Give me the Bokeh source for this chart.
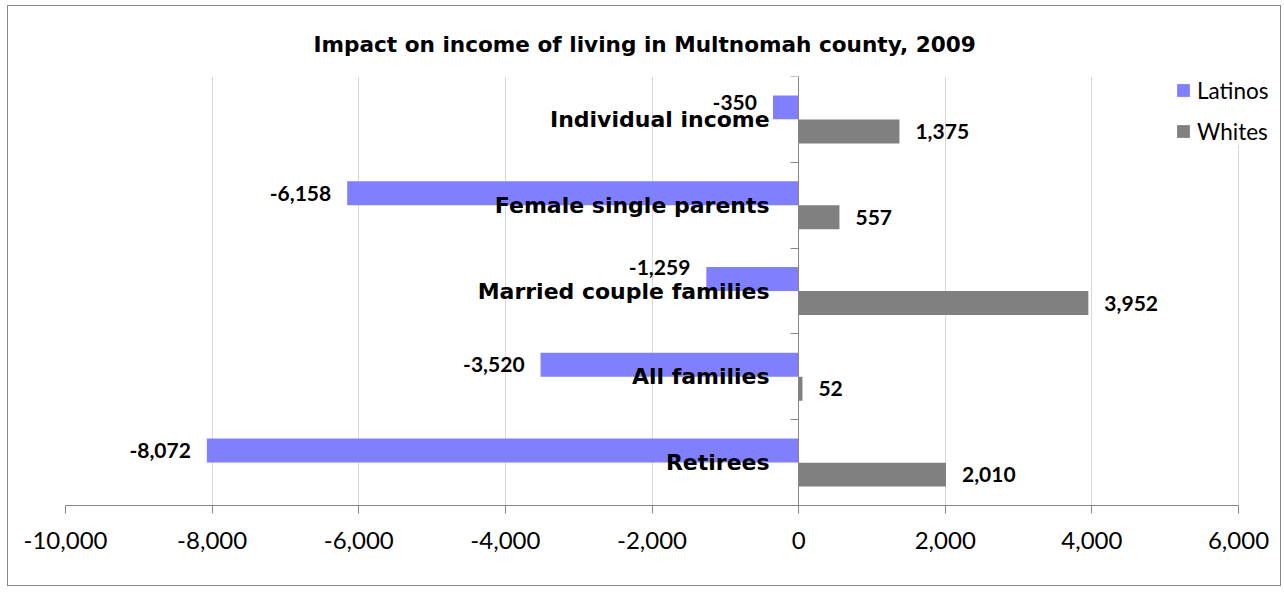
from bokeh.plotting import figure
from bokeh.models import (ColumnDataSource, Range1d, FixedTicker, NumeralTickFormatter,
                          Legend, LegendItem)
from bokeh.core.properties import value
from bokeh.embed import file_html
from bokeh.resources import INLINE

# ---- data ----
categories = ["Individual income", "Female single parents", "Married couple families",
              "All families", "Retirees"]
latinos = [-350, -6158, -1259, -3520, -8072]
whites = [1375, 557, 3952, 52, 2010]
series_names = ["Latinos", "Whites"]
x_ticks = [-10000, -8000, -6000, -4000, -2000, 0, 2000, 4000, 6000]

# ---- layout tweaks (screen px, not data) ----
latino_label_lift = [5, 0, 11, 0, 0]

NUM_FONT = "Lato"
TXT_FONT = "DejaVu Sans"
LAT_COLOR = "#8080FF"
WHITE_COLOR = "#808080"
AXIS_COLOR = "#868686"
GRID_COLOR = "#D9D9D9"

n = len(categories)
yc = [n - i - 0.5 for i in range(n)]
BAR_SHIFT = 0.14
BAR_H = 0.279

src = ColumnDataSource(dict(
    cat=categories,
    yc=yc,
    y_lat=[y + BAR_SHIFT for y in yc],
    y_wh=[y - BAR_SHIFT for y in yc],
    lat=latinos,
    wh=whites,
    lat_lbl=["{:,}".format(v) for v in latinos],
    wh_lbl=["{:,}".format(v) for v in whites],
    lat_dy=[-d for d in latino_label_lift],
))

W, H = 1274, 581
BL = 57            # frame left border
AXIS_PX = 1173     # pixel length of the value axis
span = x_ticks[-1] - x_ticks[0]
x_end = x_ticks[-1] + (W - BL - AXIS_PX) * span / AXIS_PX   # room right of the axis for the legend

p = figure(width=W, height=H, output_backend="svg", toolbar_location=None,
           x_range=Range1d(x_ticks[0], x_end), y_range=Range1d(0, n),
           min_border_left=BL, min_border_right=0, min_border_top=70, min_border_bottom=82)
p.styles = {"border": "1px solid #868686", "margin-left": "7px", "margin-top": "5px"}
p.outline_line_color = None
p.background_fill_color = "white"
p.border_fill_color = "white"

# title
p.title.text = "Impact on income of living in Multnomah county, 2009"
p.title.align = "left"
p.title.offset = 248
p.title.text_font = TXT_FONT
p.title.text_font_style = "bold"
p.title.text_font_size = "21.6px"
p.title.text_color = "black"
p.title.standoff = 39

# bars
r_lat = p.hbar(y="y_lat", height=BAR_H, left=0, right="lat", source=src,
               fill_color=LAT_COLOR, line_color=None)
r_wh = p.hbar(y="y_wh", height=BAR_H, left=0, right="wh", source=src,
              fill_color=WHITE_COLOR, line_color=None)

# data labels
p.text(x="lat", y="y_lat", text="lat_lbl", source=src, x_offset=-16, y_offset="lat_dy",
       text_align="right", text_baseline="middle", text_font=value(NUM_FONT),
       text_font_style="bold", text_font_size="21px", text_color="black")
p.text(x="wh", y="y_wh", text="wh_lbl", source=src, x_offset=16,
       text_align="left", text_baseline="middle", text_font=value(NUM_FONT),
       text_font_style="bold", text_font_size="21px", text_color="black")

# category labels next to the zero axis
p.text(x=0, y="yc", text="cat", source=src, x_offset=-29,
       text_align="right", text_baseline="middle", text_font=value(TXT_FONT),
       text_font_style="bold", text_font_size="22px", text_color="black")

# x axis
xa = p.xaxis[0]
xa.ticker = FixedTicker(ticks=x_ticks)
xa.bounds = (x_ticks[0], x_ticks[-1])
xa.formatter = NumeralTickFormatter(format="0,0")
xa.axis_line_color = AXIS_COLOR
xa.major_tick_line_color = AXIS_COLOR
xa.major_tick_out = 8
xa.major_tick_in = 0
xa.minor_tick_line_color = None
xa.major_label_text_font = NUM_FONT
xa.major_label_text_font_size = "24px"
xa.major_label_text_color = "black"
xa.major_label_standoff = 18

# y axis at zero (no labels: the category names are drawn beside it)
ya = p.yaxis[0]
ya.fixed_location = 0
ya.ticker = FixedTicker(ticks=list(range(n + 1)))
ya.major_label_overrides = {i: "" for i in range(n + 1)}
ya.axis_line_color = AXIS_COLOR
ya.major_tick_line_color = AXIS_COLOR
ya.major_tick_out = 8
ya.major_tick_in = 0
ya.minor_tick_line_color = None

p.xgrid.ticker = FixedTicker(ticks=x_ticks)
p.xgrid.grid_line_color = GRID_COLOR
p.ygrid.grid_line_color = None

legend = Legend(items=[LegendItem(label=series_names[0], renderers=[r_lat]),
                       LegendItem(label=series_names[1], renderers=[r_wh])],
                location=(1110, 360), padding=0, margin=0, spacing=13,
                glyph_width=16, glyph_height=16, label_height=28, label_standoff=6,
                label_text_font=NUM_FONT, label_text_font_size="22.5px", label_text_color="black",
                border_line_color=None, background_fill_color="white", background_fill_alpha=1)
p.add_layout(legend, "center")

open("out.html", "w").write(file_html(p, INLINE))
